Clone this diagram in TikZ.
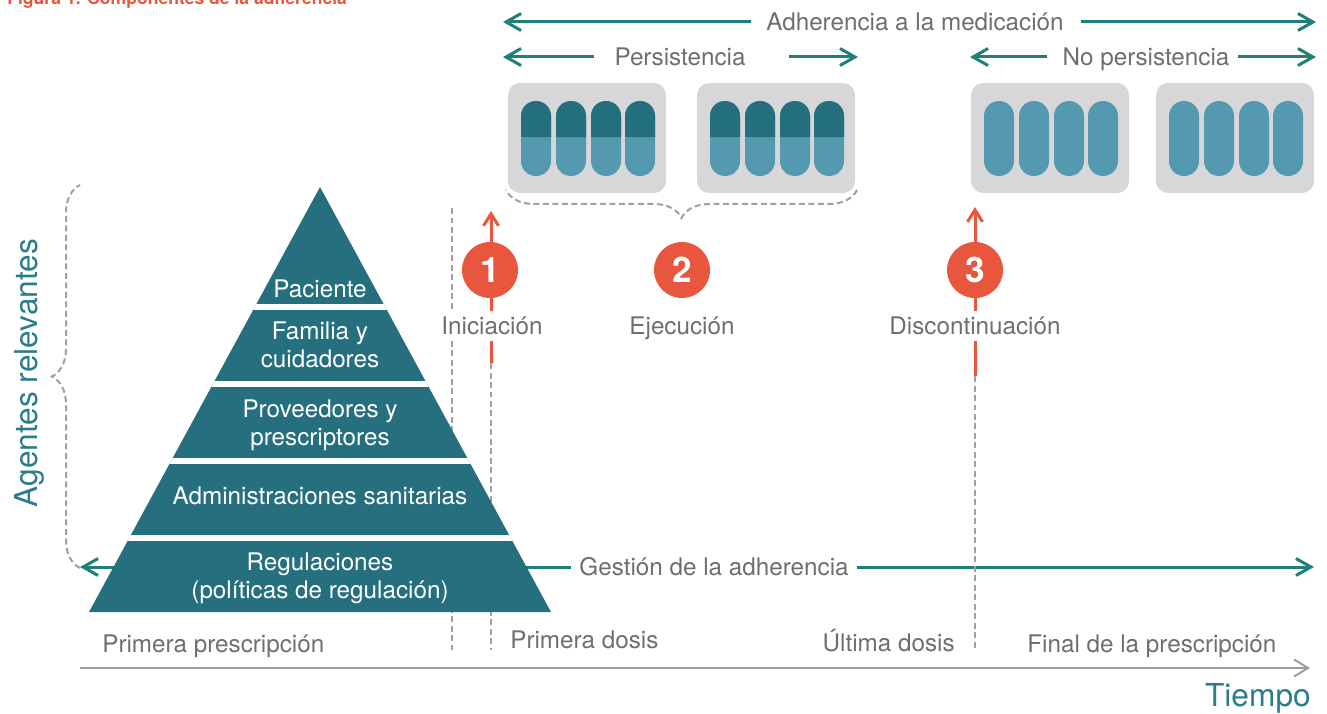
\documentclass[tikz,border=0pt]{standalone}
\usepackage{fontspec}
\setmainfont{TeX Gyre Heros}
\usepackage{tikz}
\usetikzlibrary{arrows.meta,decorations.pathreplacing}

\definecolor{adhteal}{HTML}{1F8079}
\definecolor{pyrteal}{HTML}{256F7E}
\definecolor{pilldark}{HTML}{246F7E}
\definecolor{pilllight}{HTML}{5499B0}
\definecolor{boxgray}{HTML}{D7D7D9}
\definecolor{txtgray}{HTML}{6D6E71}
\definecolor{dashgray}{HTML}{A0A0A0}
\definecolor{axisgray}{HTML}{9C9C9C}
\definecolor{adhorange}{HTML}{E8563D}
\definecolor{labteal}{HTML}{2C7D8B}

\newcommand{\lblfont}{\fontsize{13.8}{15.8}\selectfont}

\tikzset{
  lbl/.style={text=txtgray, font=\lblfont, inner xsep=0pt, text height=10pt, text depth=0pt},
  pyrtext/.style={text=white, font=\lblfont, align=center},
  tealarrow/.style={draw=adhteal, line width=0.06cm, -{Straight Barb[length=0.3cm,width=0.34cm]}},
  orangearrow/.style={draw=adhorange, line width=0.06cm, -{Straight Barb[length=0.24cm,width=0.3cm]}},
  orangeline/.style={draw=adhorange, line width=0.06cm},
  dashline/.style={draw=dashgray, line width=0.04cm, dash pattern=on 0.12cm off 0.07cm},
  timeaxis/.style={draw=axisgray, line width=0.04cm, -{Straight Barb[length=0.28cm,width=0.34cm]}},
  numcircle/.style={circle, fill=adhorange, text=white, minimum size=1.12cm, inner sep=0pt, font=\bfseries\fontsize{20}{20}\selectfont},
  bigteal/.style={text=labteal, font=\fontsize{18}{18}\selectfont}
}

\begin{document}
\begin{tikzpicture}[x=0.02cm, y=-0.02cm]
  \useasboundingbox (0,0) rectangle (1327,713);
  \node[anchor=base west, text=adhorange, font=\bfseries\fontsize{10}{12}\selectfont, inner sep=0pt] (fig) at (7,4.5) {Figura 1. Componentes de la adherencia};
  % blisters
  \fill[boxgray, rounded corners=0.24cm] (508,83) rectangle (666,193);
  \fill[boxgray, rounded corners=0.24cm] (697,83) rectangle (855,193);
  \fill[boxgray, rounded corners=0.24cm] (971,83) rectangle (1129,193);
  \fill[boxgray, rounded corners=0.24cm] (1156,83) rectangle (1314,193);
  \fill[pilllight, rounded corners=0.3cm] (521,101) rectangle (551,176);
  \fill[pilllight, rounded corners=0.3cm] (556,101) rectangle (586,176);
  \fill[pilllight, rounded corners=0.3cm] (591,101) rectangle (621,176);
  \fill[pilllight, rounded corners=0.3cm] (625,101) rectangle (655,176);
  \fill[pilllight, rounded corners=0.3cm] (710,101) rectangle (740,176);
  \fill[pilllight, rounded corners=0.3cm] (745,101) rectangle (775,176);
  \fill[pilllight, rounded corners=0.3cm] (780,101) rectangle (810,176);
  \fill[pilllight, rounded corners=0.3cm] (814,101) rectangle (844,176);
  \fill[pilllight, rounded corners=0.3cm] (984,101) rectangle (1014,176);
  \fill[pilllight, rounded corners=0.3cm] (1019,101) rectangle (1049,176);
  \fill[pilllight, rounded corners=0.3cm] (1054,101) rectangle (1084,176);
  \fill[pilllight, rounded corners=0.3cm] (1088,101) rectangle (1118,176);
  \fill[pilllight, rounded corners=0.3cm] (1169,101) rectangle (1199,176);
  \fill[pilllight, rounded corners=0.3cm] (1204,101) rectangle (1234,176);
  \fill[pilllight, rounded corners=0.3cm] (1239,101) rectangle (1269,176);
  \fill[pilllight, rounded corners=0.3cm] (1273,101) rectangle (1303,176);
  \fill[pilldark] (521,137) -- (521,116) arc[start angle=180, end angle=0, radius=0.3cm] -- (551,137) -- cycle;
  \fill[pilldark] (556,137) -- (556,116) arc[start angle=180, end angle=0, radius=0.3cm] -- (586,137) -- cycle;
  \fill[pilldark] (591,137) -- (591,116) arc[start angle=180, end angle=0, radius=0.3cm] -- (621,137) -- cycle;
  \fill[pilldark] (625,137) -- (625,116) arc[start angle=180, end angle=0, radius=0.3cm] -- (655,137) -- cycle;
  \fill[pilldark] (710,137) -- (710,116) arc[start angle=180, end angle=0, radius=0.3cm] -- (740,137) -- cycle;
  \fill[pilldark] (745,137) -- (745,116) arc[start angle=180, end angle=0, radius=0.3cm] -- (775,137) -- cycle;
  \fill[pilldark] (780,137) -- (780,116) arc[start angle=180, end angle=0, radius=0.3cm] -- (810,137) -- cycle;
  \fill[pilldark] (814,137) -- (814,116) arc[start angle=180, end angle=0, radius=0.3cm] -- (844,137) -- cycle;
  %
  \coordinate (blistR) at (857,190);
  \coordinate (blistL) at (506,190);
  \draw[dashline, decorate, decoration={brace, amplitude=0.56cm}] (blistR) -- (blistL);
  \coordinate (agtop) at (80,185);
  \coordinate (agbot) at (80,568);
  \draw[dashline, decorate, decoration={brace, amplitude=0.56cm}] (agbot) -- (agtop);
  % phase arrows
  \node[lbl] (adh) at (915,22) {Adherencia a la medicación};
  \coordinate (adhL) at (503,22);
  \coordinate (adhR) at (1316,22);
  \draw[tealarrow] ([xshift=-0.3cm]adh.west) -- (adhL);
  \draw[tealarrow] ([xshift=0.34cm]adh.east) -- (adhR);
  \node[lbl] (pers) at (680,57) {Persistencia};
  \coordinate (persL) at (503,57);
  \coordinate (persR) at (858,57);
  \draw[tealarrow] ([xshift=-0.4cm]pers.west) -- (persL);
  \draw[tealarrow] ([xshift=0.86cm]pers.east) -- (persR);
  \node[lbl] (nopers) at (1146,57) {No persistencia};
  \coordinate (nopersL) at (970,57);
  \coordinate (nopersR) at (1316,57);
  \draw[tealarrow] ([xshift=-0.3cm]nopers.west) -- (nopersL);
  \draw[tealarrow] ([xshift=0.16cm]nopers.east) -- (nopersR);
  \node[lbl] (gest) at (714,567) {Gestión de la adherencia};
  \coordinate (gestL) at (80,567);
  \coordinate (gestR) at (1314,567);
  \draw[tealarrow] ([xshift=-0.16cm]gest.west) -- (gestL);
  \draw[tealarrow] ([xshift=0.16cm]gest.east) -- (gestR);
  % time axis
  \coordinate (t0) at (80,668);
  \coordinate (t1) at (1310,668);
  \draw[timeaxis] (t0) -- (t1);
  \node[bigteal, anchor=base east, inner sep=0pt] (tiempo) at (1311,706) {Tiempo};
  \node[lbl, anchor=west] (pp) at (102,644) {Primera prescripción};
  \node[lbl, anchor=west] (pd) at (510,640) {Primera dosis};
  \node[lbl, anchor=east] (ud) at (955,643) {Última dosis};
  \node[lbl, anchor=west] (fp) at (1027,644) {Final de la prescripción};
  % stages
  \node[lbl] (ini) at (492,326) {Iniciación};
  \node[lbl] (eje) at (682,326) {Ejecución};
  \node[lbl] (dis) at (975,326) {Discontinuación};
  \coordinate (d0top) at (452,208);
  \coordinate (d0bot) at (452,650);
  \draw[dashline] (d0top) -- (d0top |- ini.north);
  \draw[dashline] (d0top |- ini.south) -- (d0bot);
  \coordinate (tip1) at (491,211);
  \coordinate (low1) at (491,363);
  \coordinate (foot1) at (491,650);
  \draw[dashline] (low1) -- (foot1);
  \draw[orangearrow] (tip1 |- ini.north) -- (tip1);
  \draw[orangeline] (tip1 |- ini.south) -- (low1);
  \coordinate (tip3) at (975,207);
  \coordinate (low3) at (975,376);
  \coordinate (foot3) at (975,650);
  \draw[dashline] (low3) -- (foot3);
  \draw[orangearrow] (tip3 |- dis.north) -- (tip3);
  \draw[orangeline] (tip3 |- dis.south) -- (low3);
  \node[numcircle] (c1) at (490,270) {1};
  \node[numcircle] (c2) at (682,270) {2};
  \node[numcircle] (c3) at (975,270) {3};
  % pyramid
  \coordinate (apex) at (320,187);
  \coordinate (pbl) at (89,612);
  \coordinate (pbr) at (551,612);
  \fill[pyrteal] (apex) -- (pbr) -- (pbl) -- cycle;
  \begin{scope}
    \clip (apex) -- (pbr) -- (pbl) -- cycle;
    \draw[white, line width=0.12cm] (60,307) -- (580,307);
    \draw[white, line width=0.12cm] (60,384) -- (580,384);
    \draw[white, line width=0.12cm] (60,460.5) -- (580,460.5);
    \draw[white, line width=0.12cm] (60,537.5) -- (580,537.5);
  \end{scope}
  \node[pyrtext] (pac) at (320,289) {Paciente};
  \node[pyrtext] (fam) at (320,345) {Familia y\\cuidadores};
  \node[pyrtext] (prov) at (320,425) {Proveedores y\\prescriptores};
  \node[pyrtext] (adm) at (320,496) {Administraciones sanitarias};
  \node[pyrtext] (reg) at (320,578) {Regulaciones\\(políticas de regulación)};
  \node[bigteal, rotate=90, anchor=base] (agentes) at (37,373) {Agentes relevantes};
\end{tikzpicture}
\end{document}
